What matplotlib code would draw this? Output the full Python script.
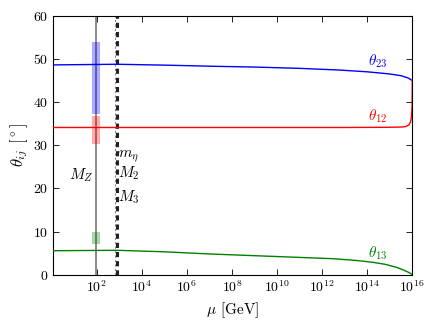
import numpy as np
import matplotlib
matplotlib.use("Agg")
import matplotlib.pyplot as plt

plt.rcParams['font.family'] = 'serif'
plt.rcParams['font.serif'] = ['cmr10']
plt.rcParams['mathtext.fontset'] = 'cm'
plt.rcParams['axes.formatter.use_mathtext'] = True
plt.rcParams['font.size'] = 10

# running angles (log10 of mu in GeV, angle in degrees)
log_mu_23 = [0.05, 2.9, 5.0, 7.0, 9.0, 11.0, 12.8, 14.0, 15.0, 15.5, 15.8, 16.0]
theta23 = [48.6, 48.75, 48.55, 48.3, 48.1, 47.8, 47.4, 47.0, 46.5, 46.1, 45.6, 45.0]

log_mu_12 = [0.05, 2.9, 8.0, 13.0, 15.0, 15.5, 15.7, 15.85, 15.92, 15.96, 15.99, 16.0]
theta12 = [34.1, 34.1, 34.1, 34.1, 34.15, 34.2, 34.3, 34.7, 35.4, 36.5, 39.0, 45.0]

log_mu_13 = [0.05, 2.9, 5.0, 7.0, 9.0, 11.0, 12.5, 13.5, 14.2, 14.8, 15.3, 15.6, 15.85, 16.0]
theta13 = [5.55, 5.65, 5.3, 4.8, 4.4, 4.0, 3.7, 3.3, 2.9, 2.4, 1.7, 1.1, 0.5, 0.0]

# experimental ranges at M_Z
mz = 91.19
band23 = [37.2, 53.8]
band12 = [30.3, 36.7]
band13 = [7.0, 9.95]

m_eta = 10**2.82
m_23 = 10**2.9

fig = plt.figure(figsize=(4.36, 3.27), dpi=100)
ax = fig.add_axes([0.121, 0.16, 0.8247, 0.792])

ax.axvline(mz, color='#777777', lw=1.2, zorder=1)
ax.axvline(m_eta, color='#888888', lw=0.8, ls=(0, (2, 2)), zorder=1)
ax.axvline(m_23, color='#222222', lw=2.2, ls=(0, (1.7, 1.3)), zorder=1)

ax.vlines(mz, band23[0], band23[1], color='blue', alpha=0.33, lw=5.8, capstyle='butt', zorder=2)
ax.vlines(mz, band12[0], band12[1], color='red', alpha=0.33, lw=5.8, capstyle='butt', zorder=2)
ax.vlines(mz, band13[0], band13[1], color='green', alpha=0.33, lw=5.8, capstyle='butt', zorder=2)

ax.plot(10**np.array(log_mu_23), theta23, color='blue', lw=1.0, zorder=3)
ax.plot(10**np.array(log_mu_12), theta12, color='red', lw=1.0, zorder=3)
ax.plot(10**np.array(log_mu_13), theta13, color='green', lw=1.0, zorder=3)

ax.text(10**14.45, 49.5, r'$\theta_{23}$', color='blue', ha='center', va='center', fontsize=11)
ax.text(10**14.45, 36.6, r'$\theta_{12}$', color='red', ha='center', va='center', fontsize=11)
ax.text(10**14.45, 5.0, r'$\theta_{13}$', color='green', ha='center', va='center', fontsize=11)

ax.text(10**1.87, 23.1, r'$M_Z$', ha='right', va='center', fontsize=11)
ax.text(10**2.95, 27.2, r'$m_\eta$', ha='left', va='center', fontsize=11)
ax.text(10**2.95, 23.5, r'$M_2$', ha='left', va='center', fontsize=11)
ax.text(10**2.95, 18.0, r'$M_3$', ha='left', va='center', fontsize=11)

ax.set_xscale('log')
ax.set_xlim(10**0.05, 1e16)
ax.set_ylim(0, 60)
ax.set_xticks(10.0**np.arange(2, 17, 2))
ax.xaxis.set_minor_locator(matplotlib.ticker.NullLocator())
ax.set_yticks(np.arange(0, 61, 10))
ax.tick_params(direction='in', top=True, right=True, length=4, width=0.6)
for s in ax.spines.values():
    s.set_linewidth(0.8)

ax.set_xlabel(r'$\mu$ [GeV]', fontsize=11)
ax.set_ylabel(r'$\theta_{ij}$ [$^\circ$]', fontsize=12, labelpad=2)

fig.savefig('out.png', dpi=100)
